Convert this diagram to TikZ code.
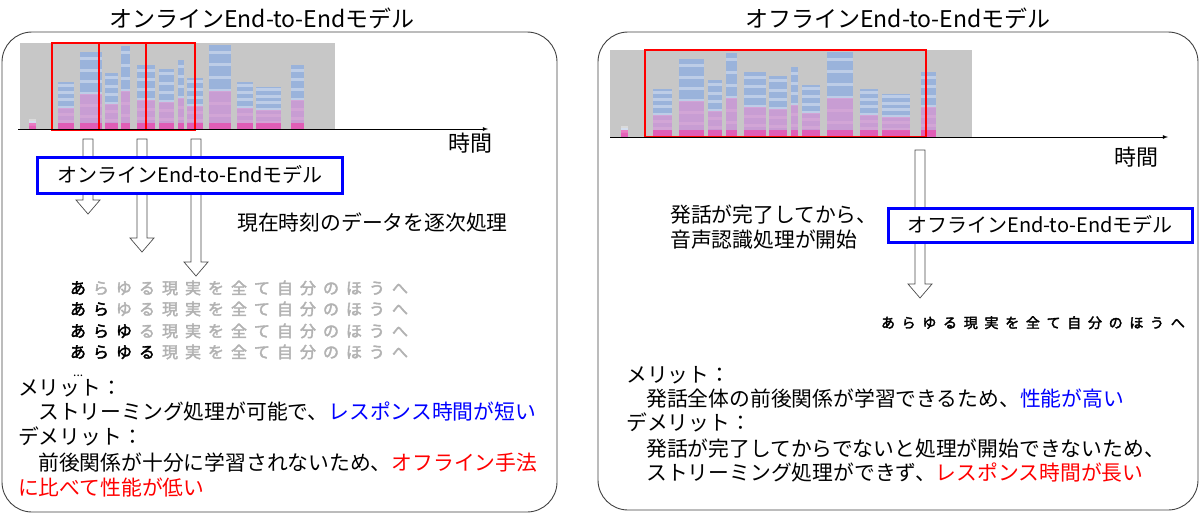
\documentclass[tikz,border=0pt]{standalone}
\usepackage{fontspec}
\setmainfont{Noto Sans CJK JP}[AutoFakeBold=2.5]
\begin{document}
\begin{tikzpicture}[x=1pt,y=-1pt,
  frame/.style={draw=black!75,line width=0.9pt,rounded corners=30pt},
  ttl/.style={fill=white,inner sep=3pt,font=\fontsize{23}{27}\selectfont},
  model/.style={draw=blue,line width=3pt,fill=white,inner sep=4pt,font=\fontsize{20}{24}\selectfont},
  txt/.style={anchor=base west,inner sep=0pt,font=\fontsize{20.8}{24}\selectfont},
  ha/.style={draw=black!70,fill=white,line width=0.7pt},
  red box/.style={draw=red,line width=1.8pt},
  axis/.style={draw=black,line width=0.8pt,-latex}]
\newcommand\harrow[3]{\draw[ha] (#1-5,#2) -- (#1+5,#2) -- (#1+5,#3-14) -- (#1+12,#3-14) -- (#1,#3) -- (#1-12,#3-14) -- (#1-5,#3-14) -- cycle;}
\newcommand\spec[3]{% x0, y-top, width
  \fill[black!22] (#1,#2) rectangle ++(#3,87);
  \foreach \a/\w/\h in {0.03/0.02/0.1, 0.12/0.05/0.55, 0.19/0.07/0.9, 0.27/0.04/0.65, 0.32/0.03/0.97, 0.37/0.06/0.75, 0.44/0.05/0.7, 0.50/0.02/0.8, 0.53/0.05/0.6, 0.60/0.07/0.98, 0.69/0.05/0.55, 0.75/0.08/0.5, 0.86/0.04/0.75}{
    \fill[cyan!50!blue!45,opacity=0.8] (#1+\a*#3,#2+87) rectangle ++(\w*#3,-\h*87);
    \foreach \k in {1,...,6}{\fill[white,opacity=0.35] (#1+\a*#3,#2+87-\k*\h*13) rectangle ++(\w*#3,-3);}
    \fill[magenta!70!blue!40,opacity=0.7] (#1+\a*#3,#2+87) rectangle ++(\w*#3,-\h*40);
    \fill[magenta!80,opacity=0.6] (#1+\a*#3,#2+87) rectangle ++(\w*#3,-7);
  }}
\newcommand\sent[5]{% x, y, pitch, nbold, size
  \foreach \c [count=\i] in {あ,ら,ゆ,る,現,実,を,全,て,自,分,の,ほ,う,へ}{
    \ifnum\i>#4 \node[anchor=base,inner sep=0pt,text=black!30,font=\fontsize{#5}{#5}\selectfont\bfseries] at (#1+\i*#3-#3,#2) {\c};
    \else \node[anchor=base,inner sep=0pt,text=black,font=\fontsize{#5}{#5}\selectfont\bfseries] at (#1+\i*#3-#3,#2) {\c};\fi}}
\useasboundingbox (0,0) rectangle (1200,515);
% ---------- left panel
\draw[frame] (2,32) rectangle (557,512);
\node[ttl,minimum width=306pt] (t1) at (262,18) {オンラインEnd-to-Endモデル};
\spec{20}{43}{315}
\draw[red box] (52,43) rectangle (99,130);
\draw[red box] (99,43) rectangle (146,130);
\draw[red box] (146,43) rectangle (195,130);
\coordinate (a1s) at (18,129); \coordinate (a1e) at (488,129);
\draw[axis] (a1s) -- (a1e);
\node[txt,font=\fontsize{22}{26}\selectfont] (time1) at (448,151) {時間};
\harrow{88}{139}{214}
\harrow{142}{139}{252}
\harrow{196}{139}{276}
\node[model,minimum width=305pt,minimum height=36pt] (m1) at (190,175) {オンラインEnd-to-Endモデル};
\node[txt] (p1) at (237,230) {現在時刻のデータを逐次処理};
\sent{78}{294}{23}{1}{16}
\sent{78}{315}{23}{2}{16}
\sent{78}{337}{23}{3}{16}
\sent{78}{358}{23}{4}{16}
\node[txt,font=\fontsize{12}{12}\selectfont] (dots) at (73,376) {...};
\node[txt] (l1) at (18,395) {メリット：};
\node[txt] (l2) at (38,419) {ストリーミング処理が可能で、\textcolor{blue}{レスポンス時間が短い}};
\node[txt] (l3) at (18,444) {デメリット：};
\node[txt] (l4) at (38,470) {前後関係が十分に学習されないため、\textcolor{red}{オフライン手法}};
\node[txt,text=red] (l5) at (18,495) {に比べて性能が低い};
% ---------- right panel
\draw[frame] (598,32) rectangle (1198,510);
\node[ttl,minimum width=358pt] (t2) at (898,18) {オフラインEnd-to-Endモデル};
\spec{610}{50}{362}
\draw[red box] (645,50) rectangle (926,137);
\coordinate (a2s) at (610,137); \coordinate (a2e) at (1168,137);
\draw[axis] (a2s) -- (a2e);
\node[txt,font=\fontsize{22}{26}\selectfont] (time2) at (1114,165) {時間};
\harrow{920}{150}{298}
\node[model,minimum width=304pt,minimum height=34pt] (m2) at (1040,225) {オフラインEnd-to-Endモデル};
\node[txt] (r0a) at (670,222) {発話が完了してから、};
\node[txt] (r0b) at (670,247) {音声認識処理が開始};
\sent{888}{328}{20.7}{15}{14}
\node[txt] (r1) at (626,382) {メリット：};
\node[txt] (r2) at (646,406) {発話全体の前後関係が学習できるため、\textcolor{blue}{性能が高い}};
\node[txt] (r3) at (626,430) {デメリット：};
\node[txt] (r4) at (646,456) {発話が完了してからでないと処理が開始できないため、};
\node[txt] (r5) at (646,480) {ストリーミング処理ができず、\textcolor{red}{レスポンス時間が長い}};
\end{tikzpicture}
\end{document}
